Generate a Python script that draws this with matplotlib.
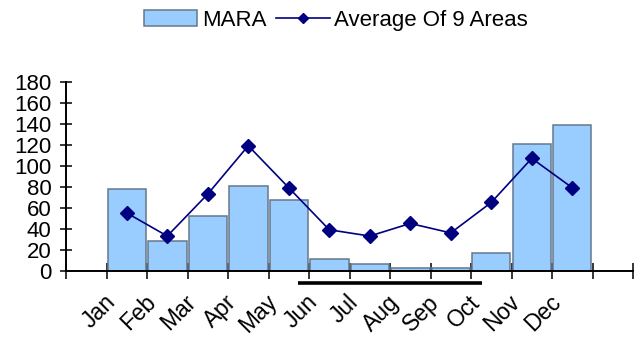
import matplotlib
matplotlib.use("Agg")
import matplotlib.pyplot as plt
import matplotlib.transforms as mtransforms
from matplotlib.lines import Line2D
import numpy as np

## DATA
months = ["Jan", "Feb", "Mar", "Apr", "May", "Jun", "Jul", "Aug", "Sep", "Oct", "Nov", "Dec"]
mara = [78, 28, 52, 81, 67, 11, 6, 3, 3, 17, 121, 139]
average_9_areas = [55, 33, 73, 119, 79, 39, 33, 45, 36, 65, 107, 79]

## STYLE
BAR_COLOR = "#99CCFF"
BAR_EDGE = "#66788c"
LINE_COLOR = "#000080"
plt.rcParams["font.family"] = ["Liberation Sans", "DejaVu Sans"]

fig = plt.figure(figsize=(6.36, 3.37), dpi=100)
ax = fig.add_axes([0.1038, 0.1967, 0.8915, 0.5609])

x = np.arange(len(months))
bars = ax.bar(x, mara, width=0.95, color=BAR_COLOR, edgecolor=BAR_EDGE, linewidth=1.1,
              label="MARA", zorder=2)
ax.plot(x, average_9_areas, color=LINE_COLOR, linewidth=1.2, marker="D", markersize=7.5,
        zorder=3)

ax.set_xlim(-1.5, 12.5)
ax.set_ylim(0, 180)

# axes: only left and bottom lines
for side in ["top", "right"]:
    ax.spines[side].set_visible(False)
for side in ["left", "bottom"]:
    ax.spines[side].set_linewidth(1.4)
    ax.spines[side].set_zorder(4)

ax.set_yticks(np.arange(0, 181, 20))
ax.tick_params(axis="y", direction="inout", length=9, width=1.1, pad=6, labelsize=16)

# tick marks on category boundaries, labels on category centres
ax.set_xticks(np.arange(-1.5, 12.6, 1))
ax.set_xticklabels([])
ax.set_xticks(x, minor=True)
ax.set_xticklabels(months, minor=True)
ax.tick_params(axis="x", which="major", direction="inout", length=11.5, width=1.1)
ax.tick_params(axis="x", which="minor", length=0, pad=0, labelsize=16.5)
offset = mtransforms.ScaledTranslation(-0.15, -0.28, fig.dpi_scale_trans)
for lbl in ax.get_xticklabels(minor=True):
    lbl.set_rotation(45)
    lbl.set_ha("right")
    lbl.set_va("center")
    lbl.set_rotation_mode("anchor")
    lbl.set_transform(lbl.get_transform() + offset)

# black bar under Jun-Oct
trans = mtransforms.blended_transform_factory(ax.transData, ax.transAxes)
ax.plot([4.24, 8.78], [-0.065, -0.065], color="black", linewidth=2.6,
        transform=trans, clip_on=False, solid_capstyle="butt")

line_handle = Line2D([], [], color=LINE_COLOR, linewidth=1.2, marker="D", markersize=5)
fig.legend([bars, line_handle], ["MARA", "Average Of 9 Areas"],
           loc="center", bbox_to_anchor=(0.528, 0.94), ncol=2, frameon=False,
           fontsize=16, handlelength=2.4, handletextpad=0.2, columnspacing=0.45,
           borderpad=0)

fig.savefig("out.png", dpi=100)
